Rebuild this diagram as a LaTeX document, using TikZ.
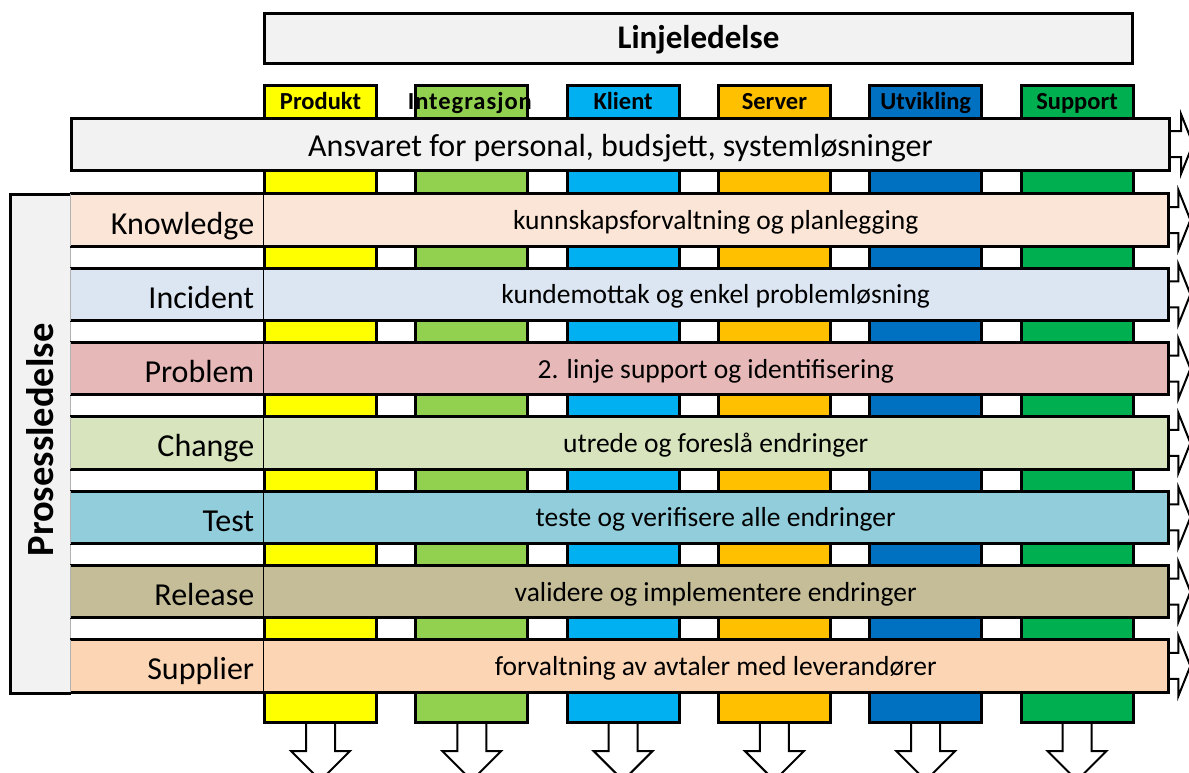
\documentclass[tikz,border=0pt]{standalone}
\usepackage{fontspec}
\setmainfont{Carlito}
\newfontfamily\spacedhead{Carlito}[LetterSpace=4]
\usetikzlibrary{backgrounds}

\definecolor{paneGrey}{HTML}{F2F2F2}
\definecolor{cProd}{HTML}{FFFF00}
\definecolor{cInteg}{HTML}{92D050}
\definecolor{cKlient}{HTML}{00B0F0}
\definecolor{cServer}{HTML}{FFC000}
\definecolor{cUtv}{HTML}{0070C0}
\definecolor{cSupp}{HTML}{00B050}
\definecolor{rKnow}{HTML}{FBE5D6}
\definecolor{rInc}{HTML}{DCE6F2}
\definecolor{rProb}{HTML}{E6B9B8}
\definecolor{rChg}{HTML}{D7E4BD}
\definecolor{rTest}{HTML}{92CDDC}
\definecolor{rRel}{HTML}{C4BD97}
\definecolor{rSupl}{HTML}{FCD5B5}

\begin{document}
\begin{tikzpicture}[x=1pt,y=-1pt,
  thickline/.style={draw=black,line width=3pt},
  colbox/.style={thickline,minimum width=112pt,minimum height=637pt,inner sep=0pt,anchor=north west},
  colhead/.style={font=\bfseries\fontsize{24.5}{24.5}\selectfont,anchor=base,inner sep=0pt},
  blockarrow/.style={draw=black,fill=white,line width=2pt,line join=miter},
  barbox/.style={minimum height=52pt,inner sep=0pt,anchor=west},
  rowlabel/.style={barbox,text width=175pt,inner xsep=9pt,align=right,minimum width=193pt,
    font=\fontsize{32}{32}\selectfont,text height=28pt,text depth=0pt},
  rowtext/.style={barbox,minimum width=905pt,font=\fontsize{27.5}{27.5}\selectfont,
    text height=19pt,text depth=0pt},
]
\useasboundingbox (0,0) rectangle (1189,772);

% functional columns running behind all bars
\foreach \n/\c [count=\i from 0] in {prod/cProd, integ/cInteg, klient/cKlient,
    server/cServer, utv/cUtv, supp/cSupp} {
  \node[colbox,fill=\c] (\n) at ({263+151.3*\i},84) {};
  \begin{pgfonlayer}{background}
    \draw[blockarrow] ([xshift=-14.5pt,yshift=3pt]\n.south) -- ++(0,30) -- ++(-15,0)
      -- ++(29.5,29.5) -- ++(29.5,-29.5) -- ++(-15,0) -- ++(0,-30) -- cycle;
  \end{pgfonlayer}
}
\node[colhead] (hprod)   at ([yshift=-25pt]prod.north)   {Produkt};
\node[colhead] (hinteg)  at ([xshift=-2pt,yshift=-25pt]integ.north)  {\spacedhead\bfseries Integrasjon};
\node[colhead] (hklient) at ([yshift=-25pt]klient.north) {Klient};
\node[colhead] (hserver) at ([yshift=-25pt]server.north) {Server};
\node[colhead] (hutv)    at ([yshift=-25pt]utv.north)    {Utvikling};
\node[colhead] (hsupp)   at ([yshift=-25pt]supp.north)   {Support};

% line management header
\node[thickline,fill=paneGrey,minimum width=868pt,minimum height=50pt,inner sep=0pt,
  anchor=north west,font=\bfseries\fontsize{33}{33}\selectfont,text height=20pt,text depth=0pt]
  (linje) at (263,12) {Linjeledelse};

% responsibility bar
\node[barbox,thickline,fill=paneGrey,minimum width=1098pt,font=\fontsize{32}{32}\selectfont,
  text height=24pt,text depth=0pt] (ansvar) at (70,144) {Ansvaret for personal, budsjett, systemløsninger};
\begin{pgfonlayer}{background}
  \draw[blockarrow] ([xshift=-6pt,yshift=13pt]ansvar.east) -- ++(16,0) -- ++(0,-17)
    -- ++(12,30) -- ++(-12,30) -- ++(0,-17) -- ++(-16,0) -- cycle;
\end{pgfonlayer}

% process management side panel
\node[fill=paneGrey,draw=gray!60,line width=1pt,minimum width=60pt,minimum height=498pt,
  inner sep=0pt,anchor=north west] (proc) at (10,194) {};
\draw[thickline] (proc.north east) -- (proc.north west) -- (proc.south west) -- (proc.south east);
\node[rotate=90,anchor=base,inner sep=0pt,font=\bfseries\fontsize{38.5}{38.5}\selectfont]
  (proctext) at (53,440) {Prosessledelse};

% process rows
\foreach \lab/\txt/\c [count=\k from 0] in {
    Knowledge/kunnskapsforvaltning og planlegging/rKnow,
    Incident/kundemottak og enkel problemløsning/rInc,
    Problem/2. linje support og identifisering/rProb,
    Change/utrede og foreslå endringer/rChg,
    Test/teste og verifisere alle endringer/rTest,
    Release/validere og implementere endringer/rRel,
    Supplier/forvaltning av avtaler med leverandører/rSupl} {
  \node[rowlabel,fill=\c] (L\k) at (70,{220+74.33*\k}) {\lab};
  \node[rowtext,fill=\c] (C\k) at (263,{220+74.33*\k}) {\txt};
  \draw[thickline] (L\k.north west) -- (C\k.north east) -- (C\k.south east) -- (L\k.south west);
  \draw[line width=1.3pt] (L\k.north east) -- (L\k.south east);
  \draw[gray!60,line width=1pt] (L\k.north west) -- (L\k.south west);
  \begin{pgfonlayer}{background}
    \draw[blockarrow] ([xshift=-6pt,yshift=13pt]C\k.east) -- ++(16,0) -- ++(0,-17)
      -- ++(12,30) -- ++(-12,30) -- ++(0,-17) -- ++(-16,0) -- cycle;
  \end{pgfonlayer}
}
\end{tikzpicture}
\end{document}
